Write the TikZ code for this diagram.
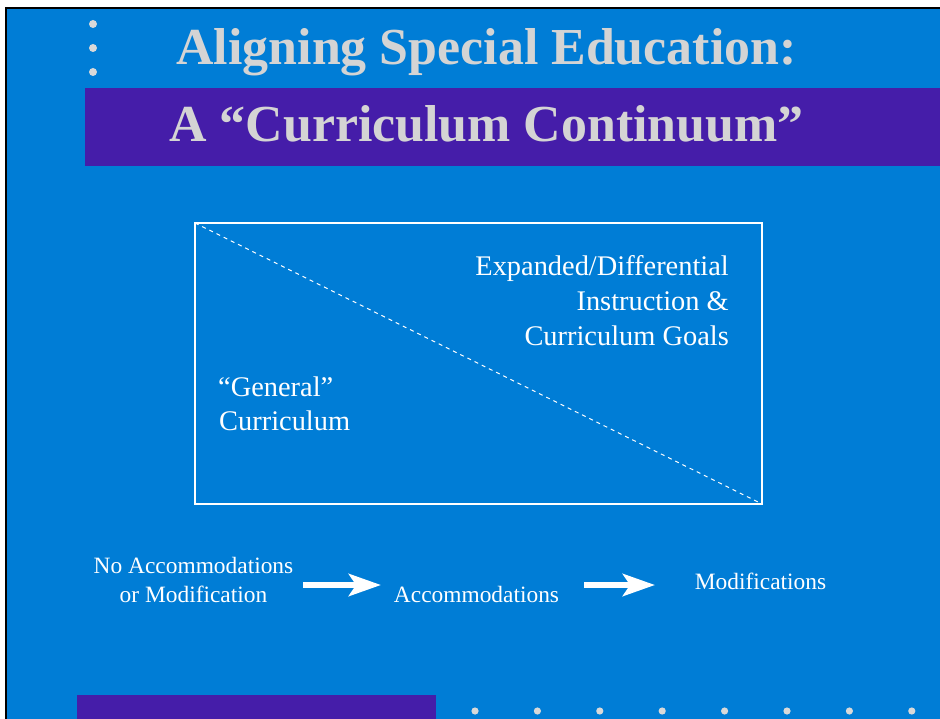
\documentclass[tikz,border=0pt]{standalone}
\usepackage{fontspec}
\setmainfont{Liberation Serif}
\usetikzlibrary{arrows.meta}
\definecolor{bgblue}{HTML}{007DD6}
\definecolor{band}{HTML}{451DA9}
\definecolor{dotgray}{HTML}{D9D9D9}
\definecolor{titlegray}{HTML}{D4D4D4}
\tikzset{
  titletext/.style={font=\fontsize{51.9}{60}\selectfont\bfseries, text=titlegray, anchor=base, inner sep=0pt},
  boxtext/.style={font=\fontsize{28.4}{34}\selectfont, text=white, inner sep=0pt},
  steptext/.style={font=\fontsize{23.4}{29}\selectfont, text=white, inner sep=0pt, anchor=base},
  dotmark/.style={fill=dotgray, draw=none},
  bigarrow/.style={draw=white, line width=6pt, -{Stealth[length=32pt,width=22pt,inset=7pt]}},
}
\begin{document}
\begin{tikzpicture}[x=1pt,y=-1pt]
\useasboundingbox (0,0) rectangle (940,719);
\fill[white] (0,0) rectangle (940,719);
\fill[bgblue] (7,9) rectangle (940,719);
\fill[black] (5,7) rectangle (940,9);
\fill[black] (5,7) rectangle (7,719);
% top-left dots
\foreach \yy in {24,48,72} \fill[dotmark] (93,\yy) circle (4);
% bands
\fill[band] (85,88) rectangle (940,166);
\fill[band] (77,695) rectangle (436,719);
% bottom dots
\foreach \xx in {475,537.4,599.8,662.2,724.6,787,849.4,911.8} \fill[dotmark] (\xx,711) circle (3.6);
% titles
\node[titletext] (t1) at (486.5,65) {Aligning Special Education:};
\node[titletext] (t2) at (486.5,142) {A “Curriculum Continuum”};
% box
\draw[white, line width=1.2pt] (195,223) rectangle (762,504);
\coordinate (bl) at (195,223);
\coordinate (br) at (762,504);
\draw[white, line width=1pt, dash pattern=on 4pt off 4pt] (bl) -- (br);
\node[boxtext, anchor=base east] (e1) at (729,276) {Expanded/Differential};
\node[boxtext, anchor=base east] (e2) at (729,311) {Instruction \&};
\node[boxtext, anchor=base east] (e3) at (729,345) {Curriculum Goals};
\node[boxtext, anchor=base west] (g1) at (218,396) {“General”};
\node[boxtext, anchor=base west] (g2) at (219,430) {Curriculum};
% steps
\node[steptext] (n1) at (193.5,573) {No Accommodations};
\node[steptext] (n2) at (193.5,602) {or Modification};
\node[steptext] (acc) at (476.5,602) {Accommodations};
\node[steptext] (mod) at (760.5,589) {Modifications};
\coordinate (a1s) at (303,585);
\coordinate (a1e) at (381,585);
\coordinate (a2s) at (584,585);
\coordinate (a2e) at (655,585);
\draw[bigarrow] (a1s) -- (a1e);
\draw[bigarrow] (a2s) -- (a2e);
\end{tikzpicture}
\end{document}
